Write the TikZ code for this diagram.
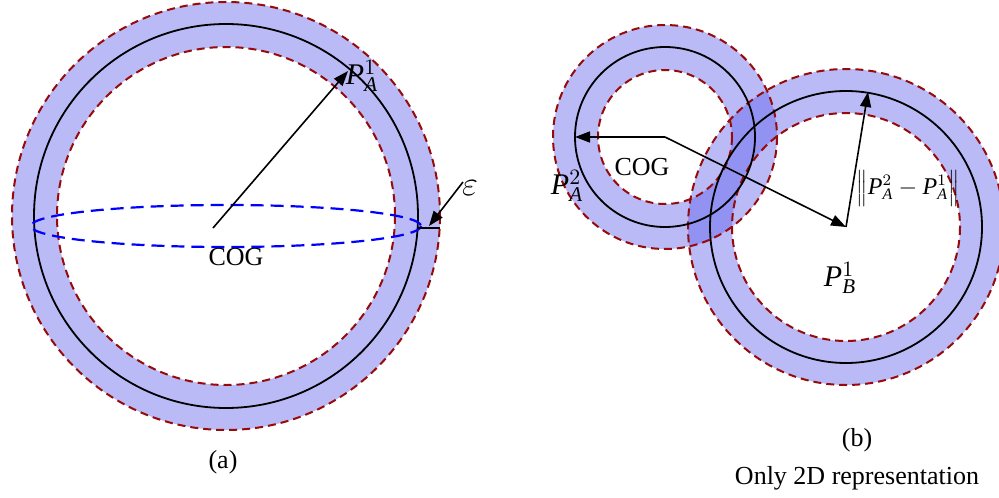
\documentclass[tikz,border=0pt]{standalone}
\usepackage{fontspec}
\setmainfont{Liberation Serif}
\usetikzlibrary{arrows.meta,calc}
\definecolor{rimcol}{RGB}{150,10,10}
\definecolor{bandcol}{RGB}{90,90,235}
\definecolor{ellcol}{RGB}{0,0,255}

\begin{document}
\begin{tikzpicture}[
  x=0.5pt, y=-0.5pt,
  every node/.style={font=\fontsize{13}{15}\selectfont, inner sep=0pt},
  %% tolerance band between two dashed rims
  band/.style={fill=bandcol, fill opacity=0.42, even odd rule},
  rim/.style={draw=rimcol, line width=1pt, dash pattern=on 4pt off 2.5pt},
  core/.style={draw=black, line width=0.9pt},
  %% black arrows
  arr/.style={-{Triangle[length=7.5pt,width=5.5pt]}, line width=0.8pt},
  sym/.style={font=\fontsize{15}{17}\selectfont},
]
\useasboundingbox (0,0) rectangle (999,497);

%%── Centres ──────────────────────────────────────────────────────────────────
\coordinate (cl) at (226,216);
\coordinate (ce) at (226,226);
\coordinate (ca) at (665,137);
\coordinate (cb) at (846,227);

%%══════════════════════════════════════════════════════════════════════════════
%%  (a)  single sphere
%%══════════════════════════════════════════════════════════════════════════════
\path[band] (cl) circle[radius=214] (cl) circle[radius=169];
\draw[rim]  (cl) circle[radius=214];
\draw[rim]  (cl) circle[radius=169];
\draw[core] (cl) circle[radius=192];
\draw[draw=ellcol, line width=1.1pt, dash pattern=on 6.5pt off 3.5pt]
  (ce) ellipse[x radius=195, y radius=21];

\node (cogl) at (236,257) {COG};
\node[sym] (pa1) at (362,76) {$\mathit{P}_{\mathit{A}}^{1}$};
\node[font=\fontsize{19}{21}\selectfont] (eps) at (470,188) {$\varepsilon$};
\node (lbla) at (223,462) {(a)};

\coordinate (rl0) at (213,228);
\coordinate (rl1) at (348,71);
\draw[arr] (rl0) -- (rl1);

\coordinate (epsin)  at (418,228);
\coordinate (epsout) at (440,228);
\coordinate (epst)   at (463,182);
\draw[line width=0.8pt] (epsin) -- (epsout);
\draw[arr] (epst) -- (429,226);

%%══════════════════════════════════════════════════════════════════════════════
%%  (b)  two spheres, 2D
%%══════════════════════════════════════════════════════════════════════════════
\path[band] (ca) circle[radius=112] (ca) circle[radius=67];
\path[band] (cb) circle[radius=158] (cb) circle[radius=114];
\draw[rim]  (ca) circle[radius=112];
\draw[rim]  (ca) circle[radius=67];
\draw[rim]  (cb) circle[radius=158];
\draw[rim]  (cb) circle[radius=114];
\draw[core] (ca) circle[radius=90];
\draw[core] (cb) circle[radius=136];

\node (cogr) at (642,167) {COG};
\node[sym] (pa2) at (567,186) {$\mathit{P}_{\mathit{A}}^{2}$};
\node[sym] (pb1) at (840,278) {$\mathit{P}_{\mathit{B}}^{1}$};
\node[font=\fontsize{12}{14}\selectfont] (dist) at (908,188)
  {$\Big\|\mathit{P}_{\mathit{A}}^{2}-\mathit{P}_{\mathit{A}}^{1}\Big\|$};
\node (lblb) at (857,440) {(b)};
\node (only) at (857,478) {Only 2D representation};

\coordinate (ta) at (575,137);
\coordinate (tb) at (868,92);
\draw[arr] (ca) -- (ta);
\draw[arr] (ca) -- (cb);
\draw[arr] (cb) -- (tb);

\end{tikzpicture}
\end{document}
